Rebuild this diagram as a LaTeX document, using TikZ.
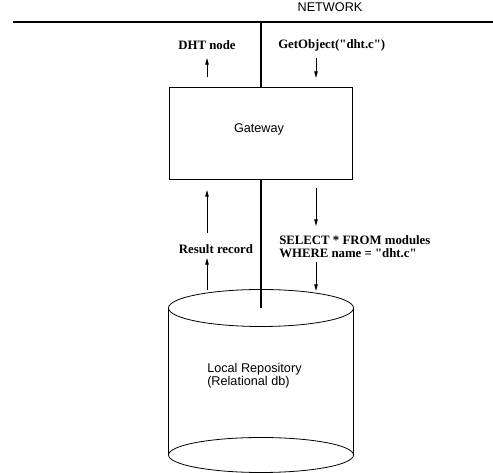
\documentclass[tikz,border=0pt]{standalone}
\usepackage{fontspec}
\setmainfont{Liberation Serif}
\setsansfont{Liberation Sans}
\usetikzlibrary{arrows.meta,positioning}

\begin{document}
\begin{tikzpicture}[x=0.75pt,y=-0.75pt,
    bus/.style={line width=1.5pt},
    msgarrow/.style={line width=0.6pt,-{Triangle[length=5pt,width=2.6pt]}},
    msglbl/.style={font=\fontsize{9.6}{9.8}\selectfont\bfseries,inner sep=0pt,align=left},
    sanslbl/.style={font=\fontsize{9.5}{9.8}\selectfont\sffamily,inner sep=0pt,align=left}]
  \useasboundingbox (0,0) rectangle (493,473);
  % network bus and gateway
  \coordinate (netL) at (13,22);
  \coordinate (netR) at (493,22);
  \coordinate (netJ) at (261,22);
  \draw[bus] (netL) -- (netR);
  \node[sanslbl] (net) at (330,7) {NETWORK};
  \node[draw,line width=0.6pt,minimum width=137.25pt,minimum height=69pt,inner sep=0pt] (gw) at (261,133) {};
  \node[sanslbl] (gwtxt) at (259,129) {Gateway};
  \draw[bus] (netJ) -- (gw.north);
  % local repository
  \coordinate (dbtop) at (261,308);
  \coordinate (dbbot) at (261,455);
  \coordinate (dbTL) at (168.5,308); \coordinate (dbBL) at (168.5,455);
  \coordinate (dbTR) at (353.5,308); \coordinate (dbBR) at (353.5,455);
  \draw[bus] (gw.south) -- (dbtop);
  \draw[line width=0.6pt] (dbtop) ellipse [x radius=92.5, y radius=18.5];
  \draw[line width=0.6pt] (dbbot) ellipse [x radius=92.5, y radius=17.5];
  \draw[line width=0.6pt] (dbTL) -- (dbBL);
  \draw[line width=0.6pt] (dbTR) -- (dbBR);
  \node[sanslbl,anchor=west] (db) at (207,375.5) {Local Repository\\(Relational db)};
  % messages above the gateway
  \node[msglbl] (dht) at (207,45) {DHT node};
  \node[msglbl,anchor=west] (get) at (278,45) {GetObject(\textquotedbl dht.c\textquotedbl)};
  \coordinate (a1s) at (207,77); \coordinate (a1e) at (207,58);
  \coordinate (a2s) at (316,58); \coordinate (a2e) at (316,78);
  \draw[msgarrow] (a1s) -- (a1e);
  \draw[msgarrow] (a2s) -- (a2e);
  % messages between gateway and repository
  \node[msglbl] (res) at (216,249) {Result record};
  \node[msglbl,anchor=west] (sql) at (279,246.5) {SELECT * FROM modules\\WHERE name = \textquotedbl dht.c\textquotedbl};
  \coordinate (b1s) at (207,233); \coordinate (b1e) at (207,190);
  \coordinate (b2s) at (207,290); \coordinate (b2e) at (207,258);
  \coordinate (c1s) at (316,188); \coordinate (c1e) at (316,226);
  \coordinate (c2s) at (316,262); \coordinate (c2e) at (316,291);
  \draw[msgarrow] (b1s) -- (b1e);
  \draw[msgarrow] (b2s) -- (b2e);
  \draw[msgarrow] (c1s) -- (c1e);
  \draw[msgarrow] (c2s) -- (c2e);
\end{tikzpicture}
\end{document}
